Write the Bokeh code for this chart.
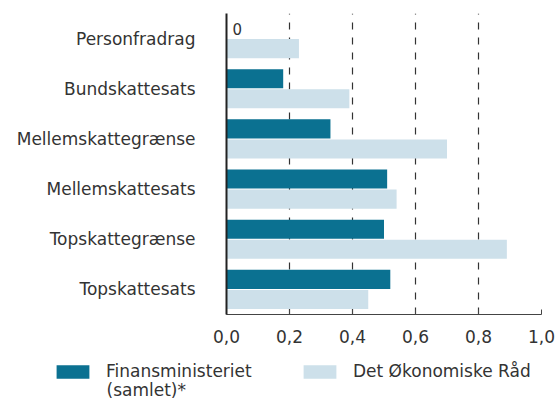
from bokeh.plotting import figure
from bokeh.layouts import column
from bokeh.models import (ColumnDataSource, FactorRange, Range1d, FixedTicker,
                          Legend, LegendItem, Label)
from bokeh.transform import dodge
from bokeh.core.properties import value
from bokeh.embed import file_html
from bokeh.resources import INLINE

categories = ["Personfradrag", "Bundskattesats", "Mellemskattegrænse",
              "Mellemskattesats", "Topskattegrænse", "Topskattesats"]
finansministeriet = [0.0, 0.18, 0.33, 0.51, 0.50, 0.52]
oekonomiske_raad = [0.23, 0.39, 0.70, 0.54, 0.89, 0.45]
x_ticks = [0.0, 0.2, 0.4, 0.6, 0.8, 1.0]
x_tick_labels = ["0,0", "0,2", "0,4", "0,6", "0,8", "1,0"]
series_names = ["Finansministeriet\n(samlet)*", "Det Økonomiske Råd"]

FONT = "DejaVu Sans"
DARK = "#0b7191"
LIGHT = "#cde0ea"
TEXT = "#333333"

src = ColumnDataSource(dict(cat=categories, fm=finansministeriet, dor=oekonomiske_raad))
zero_idx = [i for i, v in enumerate(finansministeriet) if v == 0]
zsrc = ColumnDataSource(dict(cat=[categories[i] for i in zero_idx],
                             x=[finansministeriet[i] for i in zero_idx],
                             txt=["0" for _ in zero_idx]))

p = figure(width=555, height=350, output_backend="svg", toolbar_location=None,
           y_range=FactorRange(factors=list(reversed(categories)), range_padding=0),
           x_range=Range1d(0, 1.0),
           min_border_left=226, min_border_right=14, min_border_top=13, min_border_bottom=36)
p.outline_line_color = None
p.background_fill_color = "white"

r_fm = p.hbar(y=dodge("cat", 0.2, range=p.y_range), right="fm", left=0, height=0.38,
              source=src, fill_color=DARK, line_color=None)
r_dor = p.hbar(y=dodge("cat", -0.2, range=p.y_range), right="dor", left=0, height=0.38,
               source=src, fill_color=LIGHT, line_color=None)

p.text(x="x", y=dodge("cat", 0.2, range=p.y_range), text="txt", source=zsrc,
       x_offset=6, text_font=value(FONT), text_font_size="15px", text_color=TEXT,
       text_baseline="middle", text_align="left")

xa = p.xaxis[0]
xa.ticker = FixedTicker(ticks=x_ticks)
xa.major_label_overrides = {t: l for t, l in zip(x_ticks, x_tick_labels)}
xa.major_tick_in = 5
xa.major_tick_out = 0
xa.minor_tick_line_color = None
xa.axis_line_color = "#444444"
xa.major_tick_line_color = "#444444"
xa.major_label_text_font = FONT
xa.major_label_text_font_size = "17px"
xa.major_label_text_color = TEXT
xa.major_label_standoff = 15

ya = p.yaxis[0]
ya.major_tick_in = 0
ya.major_tick_out = 0
ya.axis_line_width = 2
ya.axis_line_color = "#222222"
ya.major_label_text_font = FONT
ya.major_label_text_font_size = "17px"
ya.major_label_text_color = TEXT
ya.major_label_standoff = 31

p.ygrid.grid_line_color = None
p.xgrid.ticker = FixedTicker(ticks=x_ticks[1:])
p.xgrid.grid_line_color = "#333333"
p.xgrid.grid_line_width = 1.2
p.xgrid.grid_line_dash = "7 8"

# legend figure (no axes)
p2 = figure(width=555, height=53, output_backend="svg", toolbar_location=None,
            x_range=Range1d(0, 1), y_range=Range1d(0, 1),
            x_axis_location=None, y_axis_location=None,
            min_border_left=0, min_border_right=0, min_border_top=0, min_border_bottom=0)
p2.outline_line_color = None
p2.grid.visible = False
dummy = ColumnDataSource(dict(y=[-10], right=[-10]))
l_fm = p2.hbar(y="y", right="right", left=-11, height=0.5, source=dummy,
               fill_color=DARK, line_color=None)
l_dor = p2.hbar(y="y", right="right", left=-11, height=0.5, source=dummy,
                fill_color=LIGHT, line_color=None)

first_line, second_line = series_names[0].split("\n")
legend = Legend(items=[LegendItem(label=first_line, renderers=[l_fm]),
                       LegendItem(label=series_names[1], renderers=[l_dor])],
                orientation="horizontal", location=(52, 22),
                glyph_width=41, glyph_height=17, label_standoff=13,
                label_width=193, spacing=0, padding=0, margin=0,
                border_line_color=None, background_fill_alpha=0,
                label_text_font=FONT, label_text_font_size="17px",
                label_text_color=TEXT)
p2.add_layout(legend, "center")
p2.add_layout(Label(x=106, y=14, x_units="screen", y_units="screen", text=second_line,
                    text_font=FONT, text_font_size="17px", text_color=TEXT,
                    text_baseline="middle", text_align="left"))

open("out.html", "w").write(file_html(column(p, column(p2, spacing=0), spacing=0), INLINE))
